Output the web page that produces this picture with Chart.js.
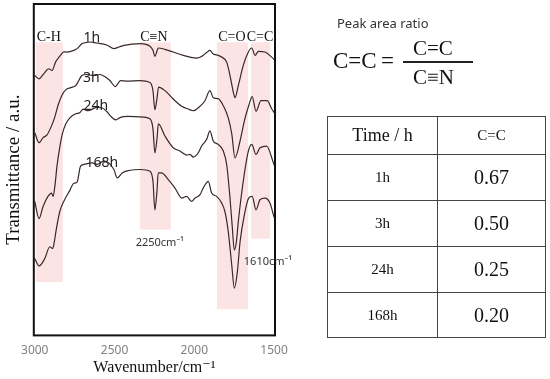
<!DOCTYPE html>
<html>
<head>
<meta charset="utf-8">
<script src="https://cdn.jsdelivr.net/npm/chart.js@4.4.0/dist/chart.umd.min.js"></script>
<style>
  html, body { margin: 0; padding: 0; background: #fff; }
  body { width: 550px; height: 379px; position: relative; overflow: hidden; }
  #chartBox { position: absolute; left: 0; top: 0; width: 550px; height: 379px; }
  .serif { font-family: 'Liberation Serif', 'DejaVu Serif', serif; color: #111; position: absolute; white-space: nowrap; }
  #ratioTitle { position: absolute; left: 337px; top: 14px; font-family: 'Noto Sans', sans-serif; font-size: 13px; color: #333; }
  #fracLine { position: absolute; left: 403px; top: 61px; width: 70px; height: 1.5px; background: #222; }
  #ratioTable { position: absolute; left: 327px; top: 116px; border-collapse: collapse; font-family: 'Liberation Serif', 'DejaVu Serif', serif; color: #111; }
  #ratioTable td { border: 1px solid #444; text-align: center; vertical-align: middle; padding: 0; }
</style>
</head>
<body>
<div id="chartBox"><canvas id="irChart" width="550" height="379"></canvas></div>

<div id="ratioTitle">Peak area ratio</div>
<div class="serif" style="left:333px; top:48px; font-size:23px;">C=C</div>
<div class="serif" style="left:381px; top:48px; font-size:23px;">=</div>
<div class="serif" style="left:413px; top:36px; font-size:21px;">C=C</div>
<div id="fracLine"></div>
<div class="serif" style="left:413px; top:65px; font-size:21px;">C≡N</div>

<table id="ratioTable"><tbody id="ratioBody"></tbody></table>

<script>
// IR spectra (transmittance in arbitrary units, offset per sample)
const wn1h = [3000, 2973, 2944, 2912, 2891, 2870, 2839, 2818, 2797, 2755, 2735, 2703, 2650, 2613, 2588, 2546, 2504, 2473, 2441, 2337, 2278, 2259, 2247, 2234, 2226, 2184, 2132, 2069, 2027, 1985, 1944, 1921, 1902, 1883, 1850, 1828, 1797, 1776, 1755, 1745, 1724, 1693, 1661, 1640, 1619, 1598, 1557, 1515, 1494];
const t1h = [258, 254.7, 259.7, 264.7, 263, 271.3, 278, 281.5, 281.3, 283, 284.7, 289.7, 291.3, 290.3, 289.7, 288, 284.7, 286.3, 288, 289.7, 287, 283, 277, 282, 285.3, 284, 281.3, 278, 276.3, 275.3, 278, 281, 283, 279.7, 278, 276.3, 271.3, 258, 241.3, 236, 248, 268, 281.3, 285.3, 278, 282, 281.3, 276.3, 273];

const wn3h = [3000, 2973, 2948, 2923, 2895, 2874, 2853, 2831, 2805, 2774, 2743, 2724, 2705, 2674, 2630, 2592, 2561, 2529, 2494, 2462, 2421, 2341, 2278, 2259, 2247, 2234, 2224, 2184, 2132, 2079, 2038, 2006, 1964, 1933, 1902, 1881, 1850, 1818, 1787, 1765, 1745, 1713, 1686, 1655, 1637, 1613, 1582, 1543, 1515, 1494];
const t3h = [201.3, 191.3, 196.3, 199, 208, 217, 229, 238, 244, 246, 248, 253, 258, 259, 258, 259, 257, 253, 247, 253, 252.5, 253, 251, 243, 224, 235, 246.5, 243, 234.7, 227.5, 224.7, 223, 227.5, 233, 243, 236, 235, 228, 216, 200, 176.3, 193, 213, 230, 237, 222.5, 233, 233, 225, 220];

const wn24h = [3000, 2973, 2948, 2917, 2895, 2885, 2874, 2860, 2843, 2827, 2805, 2780, 2743, 2718, 2697, 2666, 2613, 2581, 2550, 2520, 2492, 2463, 2419, 2341, 2278, 2259, 2247, 2234, 2225, 2184, 2132, 2090, 2048, 2027, 2006, 1975, 1954, 1922, 1902, 1881, 1850, 1818, 1797, 1776, 1762, 1749, 1736, 1724, 1693, 1661, 1640, 1613, 1588, 1546, 1504, 1494];
const t24h = [133, 116, 128, 138, 141.3, 138, 148, 169, 187, 200, 210, 216, 220, 221, 224.7, 223, 226.3, 226, 222.5, 217, 214, 216.5, 217.5, 217, 215, 205, 181.3, 195, 210, 198, 186.3, 183, 179, 179.7, 177, 181.3, 188, 194.7, 203, 193, 189.7, 183, 169.7, 136.3, 108, 84.7, 93, 113, 153, 183, 189.7, 179.7, 186.3, 188, 171.3, 167];

const wn168h = [3000, 2973, 2937, 2906, 2889, 2881, 2864, 2843, 2812, 2780, 2755, 2735, 2713, 2692, 2640, 2609, 2567, 2536, 2504, 2483, 2452, 2410, 2338, 2278, 2259, 2247, 2234, 2226, 2205, 2163, 2121, 2079, 2048, 2017, 1996, 1964, 1944, 1912, 1891, 1860, 1828, 1808, 1787, 1765, 1749, 1730, 1713, 1686, 1659, 1637, 1613, 1588, 1557, 1525, 1504, 1494];
const t168h = [76.3, 69, 76.3, 88, 86.3, 89.7, 106.3, 123, 135, 144, 151, 152, 168, 169.7, 171.3, 169.7, 173, 171.3, 164.7, 156.3, 161.3, 163.7, 164.7, 163, 153, 124.7, 143, 161.3, 161.3, 154.7, 146.3, 136.3, 138, 133, 136.3, 139.7, 146.3, 153, 141.3, 138, 131.3, 123, 103, 69.7, 47, 63, 93, 119.7, 136.3, 138, 124.7, 134.7, 136.3, 131.3, 119.7, 115];

const xTicks = [3000, 2500, 2000, 1500];

// shaded absorption regions: [from, to] in cm-1, with top/bottom in a.u.
const bandNames = ['C-H', 'C≡N', 'C=O', 'C=C'];
const bandRanges = [[2994, 2824], [2341, 2147], [1858, 1663], [1644, 1525]];
const bandBottoms = [53, 105, 26, 96];
const bandTop = 291;
const bandLabelX = [2912, 2253, 1764, 1588];

const sampleNames = ['1h', '3h', '24h', '168h'];
const sampleLabelX = [2642, 2645, 2617, 2579];
const sampleLabelY = [295, 256, 228, 171];

const peakNotes = ['2250cm⁻¹', '1610cm⁻¹'];
const peakNoteX = [2216, 1538];
const peakNoteY = [92, 73];

const ratioTimes = ['1h', '3h', '24h', '168h'];
const ratioValues = [0.67, 0.50, 0.25, 0.20];

const SERIF = "'Liberation Serif', 'DejaVu Serif', serif";
const SANS = "'Noto Sans', 'DejaVu Sans', sans-serif";
const LINE_COLOR = '#3a2828';

function zip(xs, ys) {
    return xs.map((x, i) => ({ x: x, y: ys[i] }));
}

function buildTable() {
    const body = document.getElementById('ratioBody');
    let html = '<tr style="height:38px"><td style="width:109px;font-size:18px">Time / h</td><td style="width:107px;font-size:15px">C=C</td></tr>';
    ratioTimes.forEach((t, i) => {
        const h = i === ratioTimes.length - 1 ? 45 : 46;
        html += `<tr style="height:${h}px"><td style="font-size:15px">${t}</td><td style="font-size:20px">${ratioValues[i].toFixed(2)}</td></tr>`;
    });
    body.innerHTML = html;
}

const decorPlugin = {
    id: 'decor',
    beforeDatasetsDraw(chart) {
        const { ctx, scales: { x, y } } = chart;
        ctx.save();
        ctx.fillStyle = 'rgb(252, 228, 229)';
        bandRanges.forEach((r, i) => {
            const x1 = x.getPixelForValue(r[0]);
            const x2 = x.getPixelForValue(r[1]);
            const y1 = y.getPixelForValue(bandTop);
            const y2 = y.getPixelForValue(bandBottoms[i]);
            ctx.fillRect(x1, y1, x2 - x1, y2 - y1);
        });
        ctx.restore();
    },
    afterDatasetsDraw(chart) {
        const { ctx, chartArea: a, scales: { x, y } } = chart;
        ctx.save();
        ctx.textAlign = 'center';
        ctx.textBaseline = 'middle';
        ctx.fillStyle = '#111';

        ctx.font = '14px ' + SERIF;
        bandNames.forEach((n, i) => {
            ctx.fillText(n, x.getPixelForValue(bandLabelX[i]), y.getPixelForValue(bandTop + 5));
        });

        ctx.font = '14px ' + SANS;
        ctx.fillStyle = '#222';
        sampleNames.forEach((n, i) => {
            ctx.fillText(n, x.getPixelForValue(sampleLabelX[i]), y.getPixelForValue(sampleLabelY[i]));
        });

        ctx.font = '11px ' + SANS;
        ctx.fillStyle = '#333';
        peakNotes.forEach((n, i) => {
            ctx.fillText(n, x.getPixelForValue(peakNoteX[i]), y.getPixelForValue(peakNoteY[i]));
        });

        // plot frame
        ctx.strokeStyle = '#111';
        ctx.lineWidth = 2;
        ctx.strokeRect(a.left, a.top, a.right - a.left, a.bottom - a.top);
        ctx.restore();
    }
};

function makeSet(label, xs, ys) {
    return {
        label: label,
        data: zip(xs, ys),
        borderColor: LINE_COLOR,
        borderWidth: 1.2,
        pointRadius: 0,
        fill: false,
        cubicInterpolationMode: 'monotone'
    };
}

function renderChart() {
    const ctx = document.getElementById('irChart');
    new Chart(ctx, {
        type: 'line',
        data: {
            datasets: [
                makeSet('1h', wn1h, t1h),
                makeSet('3h', wn3h, t3h),
                makeSet('24h', wn24h, t24h),
                makeSet('168h', wn168h, t168h)
            ]
        },
        options: {
            responsive: false,
            animation: false,
            layout: { padding: { left: 3, top: 4, right: 275, bottom: 0 } },
            plugins: { legend: { display: false }, tooltip: { enabled: false } },
            scales: {
                x: {
                    type: 'linear',
                    reverse: true,
                    min: 1494,
                    max: 3006,
                    afterBuildTicks: (axis) => { axis.ticks = xTicks.map(v => ({ value: v })); },
                    grid: { display: false, drawTicks: false },
                    border: { display: false },
                    ticks: {
                        color: '#808080', padding: 8, maxRotation: 0,
                        font: { family: SANS, size: 12 },
                        callback: (v) => String(v)
                    },
                    title: { display: true, text: 'Wavenumber/cm⁻¹', color: '#111', font: { family: SERIF, size: 16 }, padding: { top: -8, bottom: 2 } }
                },
                y: {
                    min: 0,
                    max: 329,
                    grid: { display: false, drawTicks: false },
                    border: { display: false },
                    ticks: { display: false },
                    title: { display: true, text: 'Transmittance / a.u.', color: '#111', font: { family: SERIF, size: 19 }, padding: { top: 0, bottom: 8 } }
                }
            }
        },
        plugins: [decorPlugin]
    });
}

document.addEventListener('DOMContentLoaded', () => {
    buildTable();
    renderChart();
});
</script>
</body>
</html>
